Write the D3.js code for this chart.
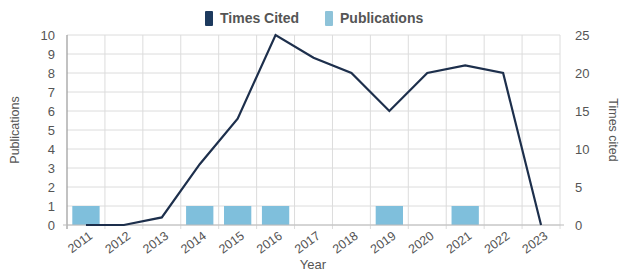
<!DOCTYPE html>
<html><head><meta charset="utf-8">
<script src="https://cdn.jsdelivr.net/npm/d3@7"></script>
<style>body{margin:0;background:#fff}svg{display:block}text{font-family:"Liberation Sans",Arial,sans-serif}</style>
</head><body><svg id="c" width="622" height="272"></svg>
<script>
const years = ["2011","2012","2013","2014","2015","2016","2017","2018","2019","2020","2021","2022","2023"];
const publications = [1,0,0,1,1,1,0,0,1,0,1,0,0];
const timesCited = [0,0,1,8,14,25,22,20,15,20,21,20,0];
const leftTicks = [0,1,2,3,4,5,6,7,8,9,10];
const rightTicks = [0,5,10,15,20,25];

const svg = d3.select("#c");
const L = 67, R = 560, T = 35, B = 225;
const x = d3.scaleBand().domain(years).range([L, R]).paddingInner(0).paddingOuter(0);
const yL = d3.scaleLinear().domain([0,10]).range([B, T]);
const yR = d3.scaleLinear().domain([0,25]).range([B, T]);
const txt = "#555";

// grid
const g = svg.append("g");
g.selectAll(".h").data(leftTicks).join("line")
  .attr("x1", L).attr("x2", R).attr("y1", d=>yL(d)).attr("y2", d=>yL(d))
  .attr("stroke", "#dcdcdc").attr("stroke-width", 1);
g.selectAll(".v").data(years.slice(1).concat(["end"])).join("line")
  .attr("x1", d=> d==="end" ? R : x(d)).attr("x2", d=> d==="end" ? R : x(d))
  .attr("y1", T).attr("y2", B+4)
  .attr("stroke", "#dcdcdc").attr("stroke-width", 1);

// bars
const barPad = 0.14;
svg.append("g").selectAll("rect").data(years.map((y,i)=>({y, v:publications[i]}))).join("rect")
  .attr("x", d=>x(d.y)+x.bandwidth()*barPad)
  .attr("width", x.bandwidth()*(1-2*barPad))
  .attr("y", d=>yL(d.v)).attr("height", d=>B-yL(d.v))
  .attr("fill", "#7fbfdc");

// axes lines
svg.append("line").attr("x1", L).attr("x2", L).attr("y1", T).attr("y2", B+4).attr("stroke", "#999").attr("stroke-width", 1.2);
svg.append("line").attr("x1", L-4).attr("x2", R+4).attr("y1", B).attr("y2", B).attr("stroke", "#bbb").attr("stroke-width", 1.2);

// line
const line = d3.line().x((d,i)=>x(years[i])+x.bandwidth()/2).y(d=>yR(d));
svg.append("path").datum(timesCited).attr("d", line)
  .attr("fill", "none").attr("stroke", "#1d2f4c").attr("stroke-width", 2.2).attr("stroke-linejoin", "miter");

// left axis labels
svg.append("g").selectAll("text").data(leftTicks).join("text")
  .attr("x", 55).attr("y", d=>yL(d)).attr("dy", "0.35em")
  .attr("text-anchor", "end").attr("fill", txt).attr("font-size", 13).text(d=>d);
// right axis labels
svg.append("g").selectAll("text").data(rightTicks).join("text")
  .attr("x", 575).attr("y", d=>yR(d)).attr("dy", "0.35em")
  .attr("text-anchor", "start").attr("fill", txt).attr("font-size", 13).text(d=>d);
// x labels
svg.append("g").selectAll("text").data(years).join("text")
  .attr("transform", d=>`translate(${x(d)+x.bandwidth()/2+2},${B+5}) rotate(-36)`)
  .attr("text-anchor", "end").attr("dy", "0.75em").attr("fill", txt).attr("font-size", 12.5).text(d=>d);

// titles
svg.append("text").attr("transform", `translate(19,130) rotate(-90)`).attr("text-anchor","middle")
  .attr("fill", txt).attr("font-size", 12.5).text("Publications");
svg.append("text").attr("transform", `translate(609,130) rotate(90)`).attr("text-anchor","middle")
  .attr("fill", txt).attr("font-size", 12.5).text("Times cited");
svg.append("text").attr("x", 313).attr("y", 269).attr("text-anchor","middle")
  .attr("fill", txt).attr("font-size", 13).text("Year");

// legend
const legend = [{name:"Times Cited", color:"#1d3a5e", x:205},{name:"Publications", color:"#8ec3d9", x:325}];
const lg = svg.append("g").selectAll("g").data(legend).join("g").attr("transform", d=>`translate(${d.x},11)`);
lg.append("rect").attr("width", 8).attr("height", 15).attr("rx", 1).attr("fill", d=>d.color);
lg.append("text").attr("x", 15).attr("y", 12).attr("fill", txt).attr("font-size", 14).attr("font-weight", 600).text(d=>d.name);
</script></body></html>
